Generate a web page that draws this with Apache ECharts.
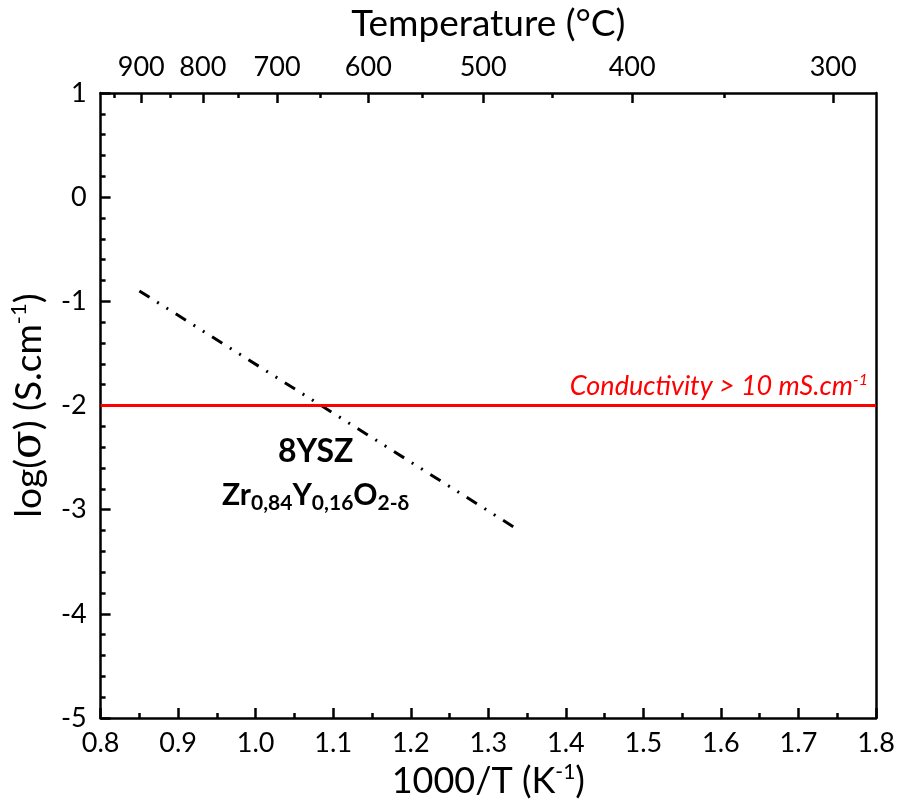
<!DOCTYPE html>
<html>
<head>
<meta charset="utf-8">
<script src="https://cdn.jsdelivr.net/npm/echarts@6/dist/echarts.min.js"></script>
<style>
  html, body { margin: 0; padding: 0; background: #fff; }
  #chart { width: 900px; height: 811px; }
</style>
</head>
<body>
<div id="chart"></div>
<script>
// 8YSZ 电导率 Arrhenius 图
const fitX = [0.85, 1.34]
const fitY = [-0.9, -3.2]
const thresholdY = -2
const tempMajor = [900, 800, 700, 600, 500, 400, 300]
const tempMinor = [950, 850, 750, 650, 550, 450, 350]

const font = 'Lato, "Open Sans", sans-serif'
const toInvT = (t) => 1000 / (t + 273.15)
const supStyle = (size, pad) => ({ fontSize: size, verticalAlign: 'top', padding: [0, 0, pad, 0], fontFamily: font, color: '#000' })

let myChart = echarts.init(document.getElementById('chart'))
let option = {
  animation: false,
  grid: { left: 100, right: 24, top: 93, bottom: 93 },
  xAxis: [
    {
      type: 'value',
      min: 0.8, max: 1.8, interval: 0.1,
      name: '1000/T (K{sup|-1})',
      nameLocation: 'middle',
      nameGap: 43,
      nameTextStyle: { fontFamily: font, fontSize: 36, color: '#000', rich: { sup: supStyle(21, 17) } },
      axisLine: { onZero: false, lineStyle: { color: '#000', width: 2.5 } },
      axisTick: { inside: true, length: 10, lineStyle: { width: 2.5, color: '#000' } },
      minorTick: { show: true, splitNumber: 2, length: 5, lineStyle: { width: 2.5, color: '#000' } },
      splitLine: { show: false },
      axisLabel: { fontFamily: font, fontSize: 27, color: '#000', margin: 12, formatter: (v) => v.toFixed(1) }
    },
    {
      // 上轴：温度 (°C)
      type: 'value', position: 'top',
      min: 0.8, max: 1.8,
      name: 'Temperature (°C)',
      nameLocation: 'middle',
      nameGap: 50,
      nameTextStyle: { fontFamily: font, fontSize: 37, color: '#000' },
      axisLine: { onZero: false, lineStyle: { color: '#000', width: 2.5 } },
      axisTick: { inside: true, length: 10, lineStyle: { width: 2.5, color: '#000' }, customValues: tempMajor.map(toInvT) },
      axisLabel: {
        fontFamily: font, fontSize: 27, color: '#000', margin: 12,
        customValues: tempMajor.map(toInvT),
        formatter: (v) => String(Math.round(1000 / v - 273.15))
      },
      splitLine: { show: false }
    },
    {
      type: 'value', position: 'top',
      min: 0.8, max: 1.8,
      axisLine: { show: false, onZero: false },
      axisTick: { inside: true, length: 5, lineStyle: { width: 2.5, color: '#000' }, customValues: tempMinor.map(toInvT) },
      axisLabel: { show: false, customValues: tempMinor.map(toInvT) },
      splitLine: { show: false }
    }
  ],
  yAxis: [
    {
      type: 'value',
      min: -5, max: 1, interval: 1,
      name: 'log({g|σ}) (S.cm{sup|-1})',
      nameLocation: 'middle',
      nameGap: 35,
      nameTextStyle: {
        fontFamily: font, fontSize: 37, color: '#000',
        rich: { sup: supStyle(22, 17), g: { fontSize: 42, fontFamily: '"DejaVu Serif", serif', color: '#000' } }
      },
      axisLine: { onZero: false, lineStyle: { color: '#000', width: 2.5 } },
      axisTick: { inside: true, length: 10, lineStyle: { width: 2.5, color: '#000' } },
      minorTick: { show: true, splitNumber: 5, length: 5, lineStyle: { width: 2.5, color: '#000' } },
      splitLine: { show: false },
      axisLabel: { fontFamily: font, fontSize: 27, color: '#000', margin: 14 }
    },
    {
      type: 'value', position: 'right',
      min: -5, max: 1,
      axisLine: { show: true, onZero: false, lineStyle: { color: '#000', width: 2.5 } },
      axisTick: { show: false },
      axisLabel: { show: false },
      splitLine: { show: false }
    }
  ],
  series: [
    {
      name: '8YSZ',
      type: 'line',
      symbol: 'none',
      data: fitX.map((x, i) => [x, fitY[i]]),
      lineStyle: { color: '#000', width: 3, type: [12, 9, 2, 9, 2, 9] },
      markLine: {
        silent: true,
        symbol: 'none',
        data: [{ yAxis: thresholdY }],
        lineStyle: { color: '#FF0000', width: 3, type: 'solid' },
        label: {
          position: 'insideEndTop',
          distance: [8, 5],
          formatter: 'Conductivity > 10 mS.cm{sup|-1}',
          fontFamily: font, fontSize: 27, fontStyle: 'italic', color: '#FF0000',
          rich: { sup: { fontSize: 16, fontStyle: 'italic', color: '#FF0000', verticalAlign: 'top', padding: [0, 0, 13, 0], fontFamily: font } }
        }
      }
    }
  ],
  graphic: [
    {
      type: 'text', left: 278, top: 436,
      style: { text: '8YSZ', font: 'bold 32px ' + font, fill: '#000' }
    },
    {
      type: 'text', left: 222, top: 480,
      style: {
        text: 'Zr{s|0,84}Y{s|0,16}O{s|2-δ}',
        font: 'bold 30px ' + font,
        fill: '#000',
        rich: {
          s: { font: 'bold 21px ' + font, fill: '#000', padding: [16, 0, 0, 0] }
        }
      }
    }
  ]
}
myChart.setOption(option)
</script>
</body>
</html>
